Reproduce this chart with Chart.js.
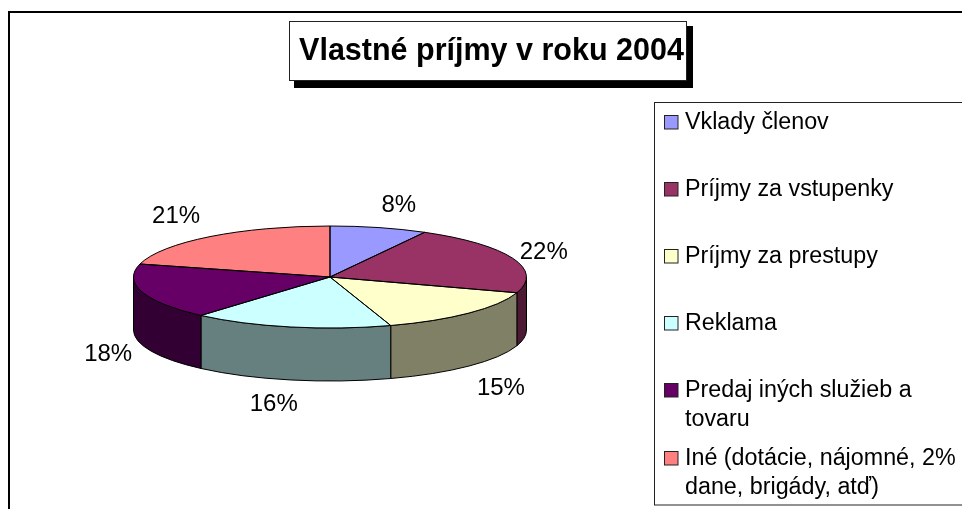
<!DOCTYPE html>
<html><head><meta charset="utf-8">
<style>html,body{margin:0;padding:0;background:#fff;overflow:hidden}#w{width:962px;height:509px}</style>
<script src="https://cdn.jsdelivr.net/npm/chart.js@4"></script>
</head><body><div id="w"><canvas id="c" width="962" height="509"></canvas></div>
<script>
const categories = ['Vklady členov','Príjmy za vstupenky','Príjmy za prestupy','Reklama','Predaj iných služieb a tovaru','Iné (dotácie, nájomné, 2% dane, brigády, atď)'];
const values = [8,22,15,16.4,17.7,20.9];
const colors = ['#9999ff','#993366','#ffffcc','#ccffff','#660066','#ff8080'];
const wallColors = ['#4d4d80','#4d1a33','#808066','#668080','#330033','#804040'];
const chartTitle = 'Vlastné príjmy v roku 2004';
const legendLines = [['Vklady členov'],['Príjmy za vstupenky'],['Príjmy za prestupy'],['Reklama'],['Predaj iných služieb a','tovaru'],['Iné (dotácie, nájomné, 2%','dane, brigády, atď)']];
const labelNudge = [[20,-22],[31,-6],[32,22],[-17,24],[-34,9],[-34,-20]];

const CX=330, CY=277, RX=196.5, RY=51, DEPTH=53;
const pad={left:CX-RX,right:962-CX-RX,top:58,bottom:58};

function ell(ctx,a,b,dy,ccw){ctx.ellipse(CX,CY+dy,RX,RY,0,a,b,!!ccw);}
function norm(a){const t=2*Math.PI;return ((a%t)+t)%t;}

const pie3d={
 id:'pie3d',
 beforeDraw(chart){
  const c=chart.ctx;c.save();
  c.fillStyle='#fff';c.fillRect(0,0,962,509);
  c.strokeStyle='#000';c.lineWidth=2;
  c.beginPath();c.moveTo(9,509);c.lineTo(9,12);c.lineTo(962,12);c.stroke();
  c.lineWidth=1;
  // title box
  c.fillStyle='#000';c.fillRect(294,26,399,62);
  c.fillStyle='#fff';c.fillRect(289.5,21.5,397,59);
  c.strokeStyle='#222';c.strokeRect(289.5,21.5,397,59);
  // legend box
  c.fillStyle='#fff';c.fillRect(654.5,102.5,320,402);
  c.strokeStyle='#222';c.strokeRect(654.5,102.5,320,402.5);
  c.restore();
 },
 beforeDatasetsDraw(chart){
  const c=chart.ctx,m=chart.getDatasetMeta(0);
  c.save();
  c.lineWidth=1;c.strokeStyle='#000';
  m.data.forEach((arc,i)=>{
    const s=norm(arc.startAngle),e=s+(arc.endAngle-arc.startAngle);
    [[s,e],[s-2*Math.PI,e-2*Math.PI]].forEach(([p,q])=>{
      const f=Math.max(p,0),t=Math.min(q,Math.PI);
      if(t<=f)return;
      c.beginPath();ell(c,f,t,0);ell(c,t,f,DEPTH,true);c.closePath();
      c.fillStyle=wallColors[i];c.fill();c.stroke();
    });
  });
  c.restore();
  c.save();
  const cx=m.data[0].x,cy=m.data[0].y;
  c.translate(CX,CY);c.scale(1,RY/RX);c.translate(-cx,-cy);
 },
 afterDatasetsDraw(chart){
  const c=chart.ctx,m=chart.getDatasetMeta(0);
  c.restore();
  c.save();
  c.lineWidth=1;c.strokeStyle='#000';
  m.data.forEach(arc=>{
    c.beginPath();c.moveTo(CX,CY);ell(c,arc.startAngle,arc.endAngle,0);c.closePath();c.stroke();
  });
  // value labels
  c.fillStyle='#000';c.font='24px "Liberation Sans", Arial, sans-serif';
  c.textAlign='center';c.textBaseline='middle';
  const tot=values.reduce((p,v)=>p+v,0);
  m.data.forEach((arc,i)=>{
    const mid=(arc.startAngle+arc.endAngle)/2;
    const x=CX+RX*Math.cos(mid), y=CY+RY*Math.sin(mid);
    c.fillText(Math.round(values[i]/tot*100)+'%',x+labelNudge[i][0],y+labelNudge[i][1]+(Math.sin(mid)>0?DEPTH:0));
  });
  // title
  c.font='bold 30.5px "Liberation Sans", Arial, sans-serif';
  c.fillText(chartTitle,491.5,52);
  // legend
  c.textAlign='left';c.textBaseline='alphabetic';
  c.font='23.3px "Liberation Sans", Arial, sans-serif';
  const rows=[129,196,263,330,397,465];
  legendLines.forEach((ls,i)=>{
    const y=rows[i];
    c.fillStyle=colors[i];
    c.fillRect(664.5,y-13.5,13.5,13.5);
    c.strokeStyle='#222';c.strokeRect(664.5,y-13.5,13.5,13.5);
    c.fillStyle='#000';
    ls.forEach((t,j)=>c.fillText(t,685,y+j*28.5));
  });
  c.restore();
 }
};

new Chart(document.getElementById('c'),{
 type:'pie',
 data:{labels:categories,datasets:[{data:values,backgroundColor:colors,borderWidth:0}]},
 options:{responsive:false,animation:false,layout:{padding:pad},
  plugins:{legend:{display:false},tooltip:{enabled:false},title:{display:false}}},
 plugins:[pie3d]
});
</script></body></html>
